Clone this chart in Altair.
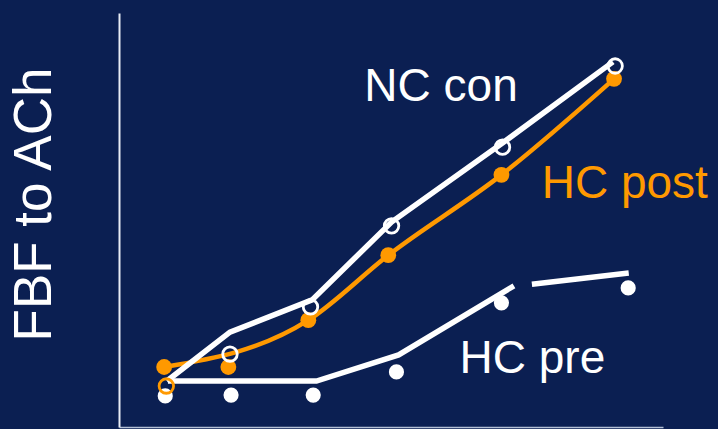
import altair as alt
import pandas as pd

# ---- data (x: dose units 0-10, y: response units 0-100) ----
nc_pt_x = [0.87, 2.04, 3.52, 5.01, 7.05, 9.12]
nc_pt_y = [9.9, 17.6, 29.0, 48.6, 67.6, 87.2]
nc_pt_col = ["#FF9900", "#FFFFFF", "#FFFFFF", "#FFFFFF", "#FFFFFF", "#FFFFFF"]

post_pt_x = [0.83, 2.01, 3.48, 4.95, 7.03, 9.10]
post_pt_y = [14.5, 14.5, 25.8, 41.5, 60.9, 84.1]

pre_pt_x = [0.85, 2.06, 3.57, 5.10, 7.03, 9.36]
pre_pt_y = [7.5, 7.7, 7.7, 13.3, 30.0, 33.6]

nc_line_x = [0.88, 2.04, 3.55, 5.01, 7.05, 9.08]
nc_line_y = [11.1, 22.9, 30.7, 49.5, 68.6, 88.2]

post_line_x = [0.83, 3.48, 4.95, 7.03, 9.10]
post_line_y = [14.5, 25.8, 41.5, 60.9, 84.1]

pre_line_x = [0.90, 3.63, 5.14, 7.26, 7.59, 9.37]
pre_line_y = [11.1, 11.1, 17.4, 34.1, 34.5, 37.2]
pre_line_seg = ["a", "a", "a", "a", "b", "b"]

label_text = ["NC con", "HC post", "HC pre"]
label_x = [4.51, 7.77, 6.26]
label_y = [78.7, 55.3, 13.0]
label_col = ["#FFFFFF", "#FF9900", "#FFFFFF"]

WHITE = "#FFFFFF"
ORANGE = "#FF9900"
BG = "#0b1f52"
FONT = "Liberation Sans"

xs = alt.Scale(domain=[0, 10], nice=False, zero=False)
ys = alt.Scale(domain=[0, 100], nice=False, zero=False)

x_axis = alt.Axis(title=None, labels=False, ticks=False, grid=False,
                  domainColor="#b4c0d6", domainWidth=1.5)
y_axis = alt.Axis(title="FBF to ACh", labels=False, ticks=False, grid=False,
                  domainColor="#e8ecf4", domainWidth=2,
                  titleFontSize=53, titleColor=WHITE, titleFont=FONT,
                  titleFontWeight="normal", titlePadding=58, titleY=191,
                  titleAlign="center")

df_nc_pt = pd.DataFrame({"x": nc_pt_x, "y": nc_pt_y, "c": nc_pt_col})
df_post_pt = pd.DataFrame({"x": post_pt_x, "y": post_pt_y})
df_pre_pt = pd.DataFrame({"x": pre_pt_x, "y": pre_pt_y})
df_nc_line = pd.DataFrame({"x": nc_line_x, "y": nc_line_y})
df_post_line = pd.DataFrame({"x": post_line_x, "y": post_line_y})
df_pre_line = pd.DataFrame({"x": pre_line_x, "y": pre_line_y, "s": pre_line_seg})
df_lab = pd.DataFrame({"t": label_text, "x": label_x, "y": label_y, "c": label_col})

base_x = alt.X("x:Q", scale=xs, axis=x_axis)
base_y = alt.Y("y:Q", scale=ys, axis=y_axis)

post_line = alt.Chart(df_post_line).mark_line(
    color=ORANGE, strokeWidth=4.5, interpolate="monotone"
).encode(x=base_x, y=base_y)

post_pts = alt.Chart(df_post_pt).mark_circle(
    color=ORANGE, size=250, opacity=1
).encode(x="x:Q", y="y:Q")

nc_line = alt.Chart(df_nc_line).mark_line(
    color=WHITE, strokeWidth=5.5
).encode(x="x:Q", y="y:Q")

pre_line = alt.Chart(df_pre_line).mark_line(
    color=WHITE, strokeWidth=5.5
).encode(x="x:Q", y="y:Q", detail="s:N")

pre_pts = alt.Chart(df_pre_pt).mark_circle(
    color=WHITE, size=230, opacity=1
).encode(x="x:Q", y="y:Q")

nc_pts = alt.Chart(df_nc_pt).mark_point(
    shape="circle", filled=False, size=210, strokeWidth=2.8, opacity=1
).encode(x="x:Q", y="y:Q", stroke=alt.Stroke("c:N", scale=None))

labels = alt.Chart(df_lab).mark_text(
    align="left", baseline="alphabetic", fontSize=46, font=FONT
).encode(x="x:Q", y="y:Q", text="t:N", color=alt.Color("c:N", scale=None))

chart = alt.layer(
    post_line, post_pts, nc_line, pre_line, pre_pts, nc_pts, labels
).properties(
    width=544, height=414,
    autosize=alt.AutoSizeParams(type="none"),
    padding={"left": 119, "top": 13, "right": 55, "bottom": 2},
    background=BG,
).configure_view(stroke=None)

chart.save("out.html", embed_options={"renderer": "svg", "actions": False})
